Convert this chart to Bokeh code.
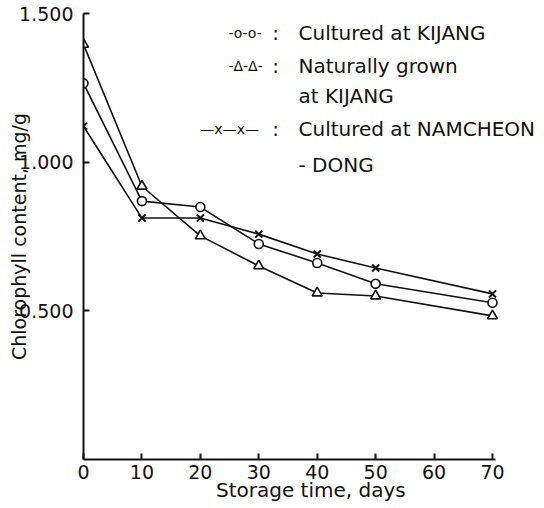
from bokeh.plotting import figure
from bokeh.models import Range1d, FixedTicker, NumeralTickFormatter, Label, ColumnDataSource
from bokeh.embed import file_html
from bokeh.resources import INLINE

# ---- data ----
days = [0, 10, 20, 30, 40, 50, 70]
cultured_kijang = [1.265, 0.869, 0.849, 0.725, 0.661, 0.591, 0.527]
natural_kijang = [1.396, 0.919, 0.752, 0.651, 0.560, 0.550, 0.483]
cultured_namcheon = [1.121, 0.812, 0.812, 0.758, 0.691, 0.644, 0.557]
x_ticks = [0, 10, 20, 30, 40, 50, 60, 70]
y_ticks = [0.5, 1.0, 1.5]

FONT = "DejaVu Sans"
INK = "#111111"

p = figure(width=544, height=508, output_backend="svg", toolbar_location=None,
           x_range=Range1d(0, 78.9), y_range=Range1d(0, 1.5),
           min_border_left=83, min_border_right=0, min_border_top=13, min_border_bottom=49)
p.outline_line_color = None
p.xgrid.visible = False
p.ygrid.visible = False
p.background_fill_color = "white"
p.border_fill_color = "white"

for ax in (p.xaxis[0], p.yaxis[0]):
    ax.axis_line_width = 2
    ax.axis_line_color = INK
    ax.major_tick_in = 6
    ax.major_tick_out = 0
    ax.minor_tick_in = 0
    ax.minor_tick_out = 0
    ax.major_tick_line_width = 2
    ax.major_tick_line_color = INK
    ax.major_label_text_font = FONT
    ax.major_label_text_color = INK
    ax.axis_label_text_font = FONT
    ax.axis_label_text_font_style = "normal"
    ax.axis_label_text_color = INK

p.xaxis.bounds = (0, 70.5)
p.yaxis.bounds = (0, 1.5)
p.xaxis.ticker = FixedTicker(ticks=x_ticks)
p.yaxis.ticker = FixedTicker(ticks=y_ticks)
p.yaxis.formatter = NumeralTickFormatter(format="0.000")
p.xaxis.major_label_text_font_size = "19px"
p.yaxis.major_label_text_font_size = "19px"
p.xaxis.major_label_standoff = 5
p.yaxis.major_label_standoff = 10
p.xaxis.axis_label = "Storage time,  days"
p.yaxis.axis_label = "Chlorophyll content, mg/g"
p.xaxis.axis_label_text_font_size = "20px"
p.yaxis.axis_label_text_font_size = "19px"
p.xaxis.axis_label_standoff = -4
p.yaxis.axis_label_standoff = -14

src = ColumnDataSource(dict(d=days, ck=cultured_kijang, nk=natural_kijang, cn=cultured_namcheon))

for col in ("ck", "nk", "cn"):
    p.line("d", col, source=src, line_color=INK, line_width=1.6)

p.scatter("d", "ck", source=src, marker="circle", size=9, fill_color="white",
          line_color=INK, line_width=1.6)
p.scatter("d", "nk", source=src, marker="triangle", size=10, fill_color="white",
          line_color=INK, line_width=1.6)
p.scatter("d", "cn", source=src, marker="x", size=10, line_color=INK, line_width=2)

# ---- hand-drawn style legend ----
legend_rows = [
    ("-o-o-", 24.8, 1.433, "Cultured at KIJANG"),
    ("-Δ-Δ-", 24.8, 1.325, "Naturally grown"),
    (None, None, 1.224, "at KIJANG"),
    ("—x—x—", 20.0, 1.113, "Cultured at NAMCHEON"),
    (None, None, 0.989, "- DONG"),
]
for sample, sx, yy, txt in legend_rows:
    if sample is not None:
        p.add_layout(Label(x=sx, y=yy, text=sample, text_font=FONT, text_font_size="14px",
                           text_color=INK, text_baseline="middle", text_align="left"))
        p.add_layout(Label(x=32.9, y=yy, text=":", text_font=FONT, text_font_size="20px",
                           text_color=INK, text_baseline="middle", text_align="center"))
    p.add_layout(Label(x=36.8, y=yy, text=txt, text_font=FONT, text_font_size="20px",
                       text_color=INK, text_baseline="middle", text_align="left"))

open("out.html", "w").write(file_html(p, INLINE))
